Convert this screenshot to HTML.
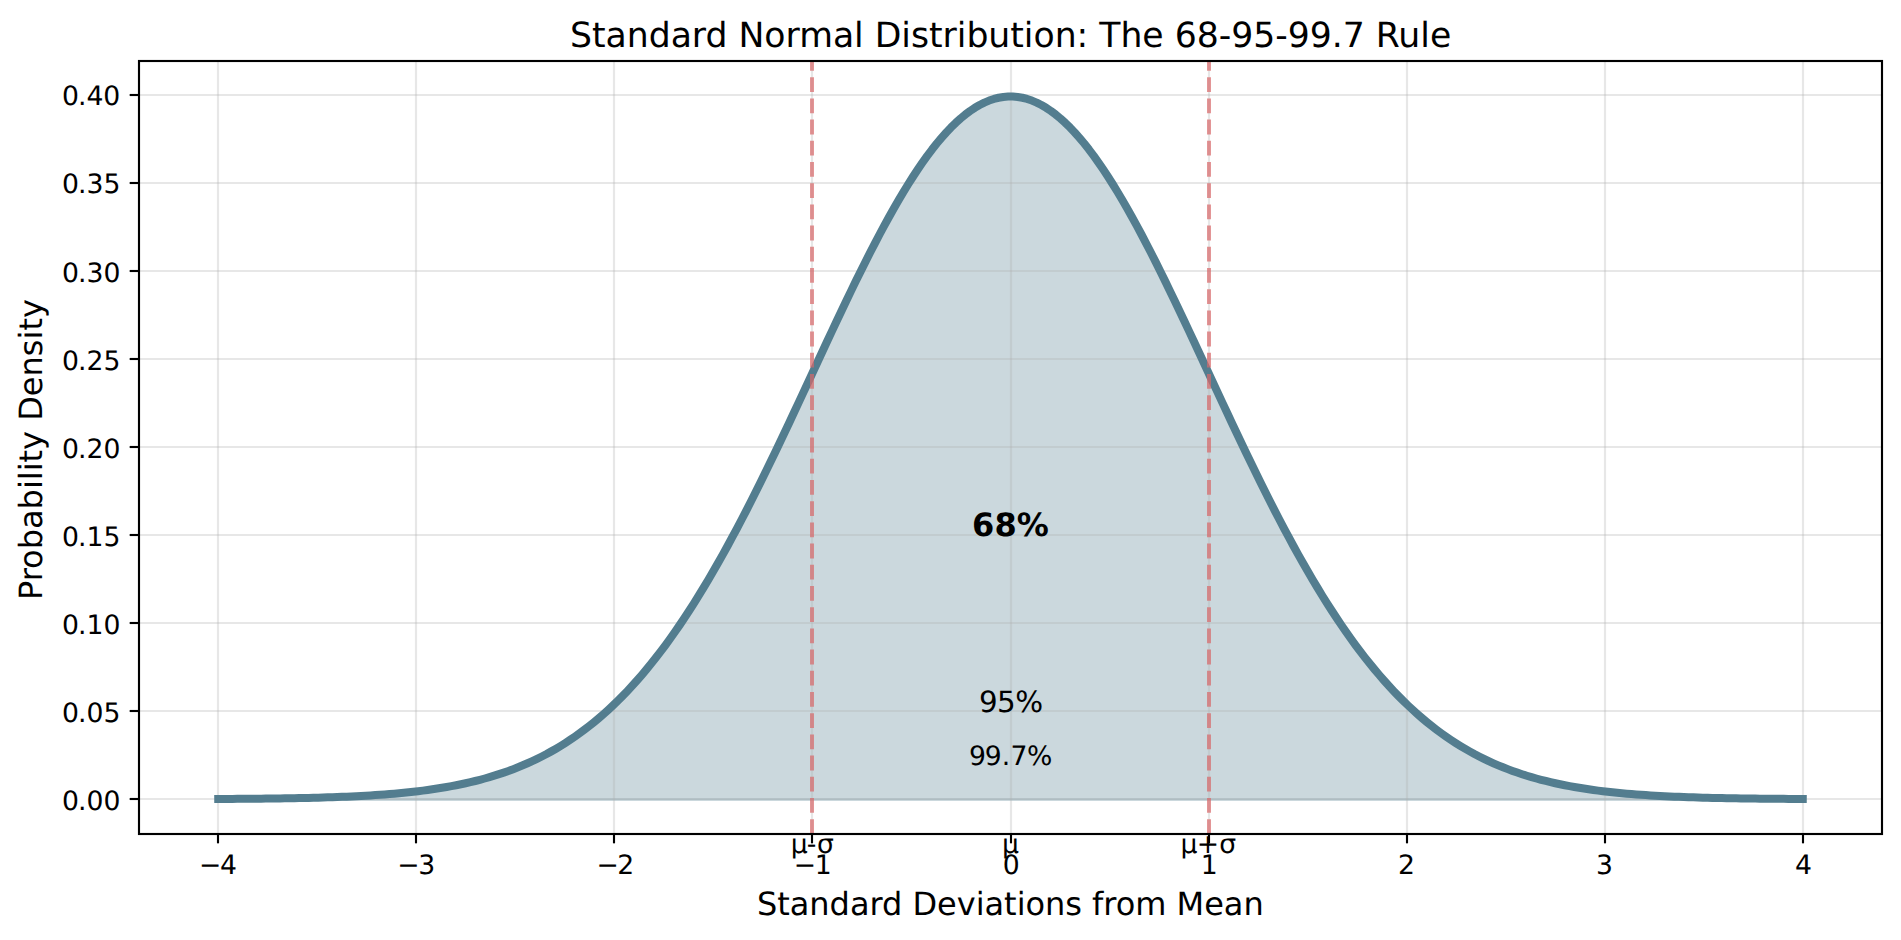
<!DOCTYPE html>
<html lang="en"><head><meta charset="utf-8"><title>Standard Normal Distribution: The 68-95-99.7 Rule</title>
<style>
html,body{margin:0;padding:0;background:#fff;overflow:hidden}
svg{display:block}
text{font-family:"DejaVu Sans","Liberation Sans",sans-serif;fill:#000;text-rendering:geometricPrecision}
</style></head><body>
<svg width="1901" height="940" viewBox="0 0 1901 940">
<rect width="1901" height="940" fill="#fff"/>
<polygon points="218.23,799.74 218.23,798.98 222.99,798.95 227.74,798.93 232.50,798.90 237.26,798.87 242.02,798.84 246.78,798.80 251.54,798.76 256.29,798.71 261.05,798.67 265.81,798.61 270.57,798.56 275.33,798.50 280.09,798.43 284.84,798.36 289.60,798.28 294.36,798.19 299.12,798.10 303.88,798.00 308.64,797.89 313.40,797.78 318.15,797.65 322.91,797.52 327.67,797.37 332.43,797.21 337.19,797.04 341.95,796.85 346.70,796.66 351.46,796.44 356.22,796.21 360.98,795.97 365.74,795.70 370.50,795.42 375.25,795.11 380.01,794.78 384.77,794.43 389.53,794.06 394.29,793.65 399.05,793.22 403.80,792.77 408.56,792.28 413.32,791.75 418.08,791.19 422.84,790.60 427.60,789.96 432.36,789.29 437.11,788.57 441.87,787.81 446.63,787.00 451.39,786.14 456.15,785.22 460.91,784.25 465.66,783.23 470.42,782.14 475.18,780.99 479.94,779.77 484.70,778.49 489.46,777.13 494.21,775.70 498.97,774.18 503.73,772.59 508.49,770.91 513.25,769.14 518.01,767.28 522.76,765.32 527.52,763.27 532.28,761.11 537.04,758.85 541.80,756.47 546.56,753.99 551.31,751.38 556.07,748.66 560.83,745.81 565.59,742.83 570.35,739.72 575.11,736.48 579.87,733.09 584.62,729.57 589.38,725.90 594.14,722.08 598.90,718.11 603.66,713.98 608.42,709.69 613.17,705.25 617.93,700.64 622.69,695.86 627.45,690.91 632.21,685.79 636.97,680.50 641.72,675.04 646.48,669.39 651.24,663.57 656.00,657.57 660.76,651.39 665.52,645.03 670.27,638.49 675.03,631.76 679.79,624.86 684.55,617.78 689.31,610.52 694.07,603.08 698.83,595.46 703.58,587.67 708.34,579.71 713.10,571.58 717.86,563.29 722.62,554.84 727.38,546.23 732.13,537.46 736.89,528.55 741.65,519.50 746.41,510.31 751.17,500.99 755.93,491.55 760.68,482.00 765.44,472.33 770.20,462.57 774.96,452.71 779.72,442.77 784.48,432.76 789.23,422.68 793.99,412.55 798.75,402.38 803.51,392.17 808.27,381.94 813.03,371.70 817.79,361.47 822.54,351.24 827.30,341.05 832.06,330.89 836.82,320.78 841.58,310.73 846.34,300.77 851.09,290.89 855.85,281.11 860.61,271.46 865.37,261.93 870.13,252.54 874.89,243.32 879.64,234.26 884.40,225.39 889.16,216.71 893.92,208.25 898.68,200.00 903.44,192.00 908.19,184.24 912.95,176.74 917.71,169.51 922.47,162.57 927.23,155.92 931.99,149.58 936.74,143.55 941.50,137.85 946.26,132.48 951.02,127.46 955.78,122.79 960.54,118.49 965.30,114.55 970.05,110.98 974.81,107.80 979.57,105.00 984.33,102.59 989.09,100.58 993.85,98.96 998.60,97.75 1003.36,96.94 1008.12,96.53 1012.88,96.53 1017.64,96.94 1022.40,97.75 1027.15,98.96 1031.91,100.58 1036.67,102.59 1041.43,105.00 1046.19,107.80 1050.95,110.98 1055.70,114.55 1060.46,118.49 1065.22,122.79 1069.98,127.46 1074.74,132.48 1079.50,137.85 1084.26,143.55 1089.01,149.58 1093.77,155.92 1098.53,162.57 1103.29,169.51 1108.05,176.74 1112.81,184.24 1117.56,192.00 1122.32,200.00 1127.08,208.25 1131.84,216.71 1136.60,225.39 1141.36,234.26 1146.11,243.32 1150.87,252.54 1155.63,261.93 1160.39,271.46 1165.15,281.11 1169.91,290.89 1174.66,300.77 1179.42,310.73 1184.18,320.78 1188.94,330.89 1193.70,341.05 1198.46,351.24 1203.21,361.47 1207.97,371.70 1212.73,381.94 1217.49,392.17 1222.25,402.38 1227.01,412.55 1231.77,422.68 1236.52,432.76 1241.28,442.77 1246.04,452.71 1250.80,462.57 1255.56,472.33 1260.32,482.00 1265.07,491.55 1269.83,500.99 1274.59,510.31 1279.35,519.50 1284.11,528.55 1288.87,537.46 1293.62,546.23 1298.38,554.84 1303.14,563.29 1307.90,571.58 1312.66,579.71 1317.42,587.67 1322.17,595.46 1326.93,603.08 1331.69,610.52 1336.45,617.78 1341.21,624.86 1345.97,631.76 1350.73,638.49 1355.48,645.03 1360.24,651.39 1365.00,657.57 1369.76,663.57 1374.52,669.39 1379.28,675.04 1384.03,680.50 1388.79,685.79 1393.55,690.91 1398.31,695.86 1403.07,700.64 1407.83,705.25 1412.58,709.69 1417.34,713.98 1422.10,718.11 1426.86,722.08 1431.62,725.90 1436.38,729.57 1441.13,733.09 1445.89,736.48 1450.65,739.72 1455.41,742.83 1460.17,745.81 1464.93,748.66 1469.69,751.38 1474.44,753.99 1479.20,756.47 1483.96,758.85 1488.72,761.11 1493.48,763.27 1498.24,765.32 1502.99,767.28 1507.75,769.14 1512.51,770.91 1517.27,772.59 1522.03,774.18 1526.79,775.70 1531.54,777.13 1536.30,778.49 1541.06,779.77 1545.82,780.99 1550.58,782.14 1555.34,783.23 1560.09,784.25 1564.85,785.22 1569.61,786.14 1574.37,787.00 1579.13,787.81 1583.89,788.57 1588.64,789.29 1593.40,789.96 1598.16,790.60 1602.92,791.19 1607.68,791.75 1612.44,792.28 1617.20,792.77 1621.95,793.22 1626.71,793.65 1631.47,794.06 1636.23,794.43 1640.99,794.78 1645.75,795.11 1650.50,795.42 1655.26,795.70 1660.02,795.97 1664.78,796.21 1669.54,796.44 1674.30,796.66 1679.05,796.85 1683.81,797.04 1688.57,797.21 1693.33,797.37 1698.09,797.52 1702.85,797.65 1707.60,797.78 1712.36,797.89 1717.12,798.00 1721.88,798.10 1726.64,798.19 1731.40,798.28 1736.16,798.36 1740.91,798.43 1745.67,798.50 1750.43,798.56 1755.19,798.61 1759.95,798.67 1764.71,798.71 1769.46,798.76 1774.22,798.80 1778.98,798.84 1783.74,798.87 1788.50,798.90 1793.26,798.93 1798.01,798.95 1802.77,798.98 1802.77,799.74" fill="#537d8f" fill-opacity="0.3" stroke="#537d8f" stroke-opacity="0.3" stroke-width="2.667" stroke-linejoin="miter"/>
<g stroke="#b0b0b0" stroke-opacity="0.3" stroke-width="2.133" fill="none">
<line x1="218" y1="61" x2="218" y2="834"/><line x1="416" y1="61" x2="416" y2="834"/><line x1="614" y1="61" x2="614" y2="834"/><line x1="812" y1="61" x2="812" y2="834"/><line x1="1011" y1="61" x2="1011" y2="834"/><line x1="1209" y1="61" x2="1209" y2="834"/><line x1="1407" y1="61" x2="1407" y2="834"/><line x1="1605" y1="61" x2="1605" y2="834"/><line x1="1803" y1="61" x2="1803" y2="834"/>
<line x1="139" y1="799" x2="1882" y2="799"/><line x1="139" y1="711" x2="1882" y2="711"/><line x1="139" y1="623" x2="1882" y2="623"/><line x1="139" y1="535" x2="1882" y2="535"/><line x1="139" y1="447" x2="1882" y2="447"/><line x1="139" y1="359" x2="1882" y2="359"/><line x1="139" y1="271" x2="1882" y2="271"/><line x1="139" y1="183" x2="1882" y2="183"/><line x1="139" y1="95" x2="1882" y2="95"/>
</g>
<polyline points="218.23,798.98 222.99,798.95 227.74,798.93 232.50,798.90 237.26,798.87 242.02,798.84 246.78,798.80 251.54,798.76 256.29,798.71 261.05,798.67 265.81,798.61 270.57,798.56 275.33,798.50 280.09,798.43 284.84,798.36 289.60,798.28 294.36,798.19 299.12,798.10 303.88,798.00 308.64,797.89 313.40,797.78 318.15,797.65 322.91,797.52 327.67,797.37 332.43,797.21 337.19,797.04 341.95,796.85 346.70,796.66 351.46,796.44 356.22,796.21 360.98,795.97 365.74,795.70 370.50,795.42 375.25,795.11 380.01,794.78 384.77,794.43 389.53,794.06 394.29,793.65 399.05,793.22 403.80,792.77 408.56,792.28 413.32,791.75 418.08,791.19 422.84,790.60 427.60,789.96 432.36,789.29 437.11,788.57 441.87,787.81 446.63,787.00 451.39,786.14 456.15,785.22 460.91,784.25 465.66,783.23 470.42,782.14 475.18,780.99 479.94,779.77 484.70,778.49 489.46,777.13 494.21,775.70 498.97,774.18 503.73,772.59 508.49,770.91 513.25,769.14 518.01,767.28 522.76,765.32 527.52,763.27 532.28,761.11 537.04,758.85 541.80,756.47 546.56,753.99 551.31,751.38 556.07,748.66 560.83,745.81 565.59,742.83 570.35,739.72 575.11,736.48 579.87,733.09 584.62,729.57 589.38,725.90 594.14,722.08 598.90,718.11 603.66,713.98 608.42,709.69 613.17,705.25 617.93,700.64 622.69,695.86 627.45,690.91 632.21,685.79 636.97,680.50 641.72,675.04 646.48,669.39 651.24,663.57 656.00,657.57 660.76,651.39 665.52,645.03 670.27,638.49 675.03,631.76 679.79,624.86 684.55,617.78 689.31,610.52 694.07,603.08 698.83,595.46 703.58,587.67 708.34,579.71 713.10,571.58 717.86,563.29 722.62,554.84 727.38,546.23 732.13,537.46 736.89,528.55 741.65,519.50 746.41,510.31 751.17,500.99 755.93,491.55 760.68,482.00 765.44,472.33 770.20,462.57 774.96,452.71 779.72,442.77 784.48,432.76 789.23,422.68 793.99,412.55 798.75,402.38 803.51,392.17 808.27,381.94 813.03,371.70 817.79,361.47 822.54,351.24 827.30,341.05 832.06,330.89 836.82,320.78 841.58,310.73 846.34,300.77 851.09,290.89 855.85,281.11 860.61,271.46 865.37,261.93 870.13,252.54 874.89,243.32 879.64,234.26 884.40,225.39 889.16,216.71 893.92,208.25 898.68,200.00 903.44,192.00 908.19,184.24 912.95,176.74 917.71,169.51 922.47,162.57 927.23,155.92 931.99,149.58 936.74,143.55 941.50,137.85 946.26,132.48 951.02,127.46 955.78,122.79 960.54,118.49 965.30,114.55 970.05,110.98 974.81,107.80 979.57,105.00 984.33,102.59 989.09,100.58 993.85,98.96 998.60,97.75 1003.36,96.94 1008.12,96.53 1012.88,96.53 1017.64,96.94 1022.40,97.75 1027.15,98.96 1031.91,100.58 1036.67,102.59 1041.43,105.00 1046.19,107.80 1050.95,110.98 1055.70,114.55 1060.46,118.49 1065.22,122.79 1069.98,127.46 1074.74,132.48 1079.50,137.85 1084.26,143.55 1089.01,149.58 1093.77,155.92 1098.53,162.57 1103.29,169.51 1108.05,176.74 1112.81,184.24 1117.56,192.00 1122.32,200.00 1127.08,208.25 1131.84,216.71 1136.60,225.39 1141.36,234.26 1146.11,243.32 1150.87,252.54 1155.63,261.93 1160.39,271.46 1165.15,281.11 1169.91,290.89 1174.66,300.77 1179.42,310.73 1184.18,320.78 1188.94,330.89 1193.70,341.05 1198.46,351.24 1203.21,361.47 1207.97,371.70 1212.73,381.94 1217.49,392.17 1222.25,402.38 1227.01,412.55 1231.77,422.68 1236.52,432.76 1241.28,442.77 1246.04,452.71 1250.80,462.57 1255.56,472.33 1260.32,482.00 1265.07,491.55 1269.83,500.99 1274.59,510.31 1279.35,519.50 1284.11,528.55 1288.87,537.46 1293.62,546.23 1298.38,554.84 1303.14,563.29 1307.90,571.58 1312.66,579.71 1317.42,587.67 1322.17,595.46 1326.93,603.08 1331.69,610.52 1336.45,617.78 1341.21,624.86 1345.97,631.76 1350.73,638.49 1355.48,645.03 1360.24,651.39 1365.00,657.57 1369.76,663.57 1374.52,669.39 1379.28,675.04 1384.03,680.50 1388.79,685.79 1393.55,690.91 1398.31,695.86 1403.07,700.64 1407.83,705.25 1412.58,709.69 1417.34,713.98 1422.10,718.11 1426.86,722.08 1431.62,725.90 1436.38,729.57 1441.13,733.09 1445.89,736.48 1450.65,739.72 1455.41,742.83 1460.17,745.81 1464.93,748.66 1469.69,751.38 1474.44,753.99 1479.20,756.47 1483.96,758.85 1488.72,761.11 1493.48,763.27 1498.24,765.32 1502.99,767.28 1507.75,769.14 1512.51,770.91 1517.27,772.59 1522.03,774.18 1526.79,775.70 1531.54,777.13 1536.30,778.49 1541.06,779.77 1545.82,780.99 1550.58,782.14 1555.34,783.23 1560.09,784.25 1564.85,785.22 1569.61,786.14 1574.37,787.00 1579.13,787.81 1583.89,788.57 1588.64,789.29 1593.40,789.96 1598.16,790.60 1602.92,791.19 1607.68,791.75 1612.44,792.28 1617.20,792.77 1621.95,793.22 1626.71,793.65 1631.47,794.06 1636.23,794.43 1640.99,794.78 1645.75,795.11 1650.50,795.42 1655.26,795.70 1660.02,795.97 1664.78,796.21 1669.54,796.44 1674.30,796.66 1679.05,796.85 1683.81,797.04 1688.57,797.21 1693.33,797.37 1698.09,797.52 1702.85,797.65 1707.60,797.78 1712.36,797.89 1717.12,798.00 1721.88,798.10 1726.64,798.19 1731.40,798.28 1736.16,798.36 1740.91,798.43 1745.67,798.50 1750.43,798.56 1755.19,798.61 1759.95,798.67 1764.71,798.71 1769.46,798.76 1774.22,798.80 1778.98,798.84 1783.74,798.87 1788.50,798.90 1793.26,798.93 1798.01,798.95 1802.77,798.98" fill="none" stroke="#537d8f" stroke-width="8" stroke-linejoin="round" stroke-linecap="square"/>
<line x1="812" y1="834" x2="812" y2="61" stroke="#d7686a" stroke-opacity="0.7" stroke-width="4" stroke-dasharray="14.8 6.4"/>
<line x1="1209" y1="834" x2="1209" y2="61" stroke="#d7686a" stroke-opacity="0.7" stroke-width="4" stroke-dasharray="14.8 6.4"/>
<g stroke="#000" stroke-width="2.133" fill="none">
<line x1="218" y1="834" x2="218" y2="843.33"/><line x1="416" y1="834" x2="416" y2="843.33"/><line x1="614" y1="834" x2="614" y2="843.33"/><line x1="812" y1="834" x2="812" y2="843.33"/><line x1="1011" y1="834" x2="1011" y2="843.33"/><line x1="1209" y1="834" x2="1209" y2="843.33"/><line x1="1407" y1="834" x2="1407" y2="843.33"/><line x1="1605" y1="834" x2="1605" y2="843.33"/><line x1="1803" y1="834" x2="1803" y2="843.33"/>
<line x1="139" y1="799" x2="129.67" y2="799"/><line x1="139" y1="711" x2="129.67" y2="711"/><line x1="139" y1="623" x2="129.67" y2="623"/><line x1="139" y1="535" x2="129.67" y2="535"/><line x1="139" y1="447" x2="129.67" y2="447"/><line x1="139" y1="359" x2="129.67" y2="359"/><line x1="139" y1="271" x2="129.67" y2="271"/><line x1="139" y1="183" x2="129.67" y2="183"/><line x1="139" y1="95" x2="129.67" y2="95"/>
<rect x="139" y="61" width="1743" height="773" stroke-linejoin="miter"/>
</g>
<text x="1010.60" y="47.00" font-size="34.667" text-anchor="middle" textLength="881.24" lengthAdjust="spacing">Standard Normal Distribution: The 68-95-99.7 Rule</text>
<text x="1010.34" y="915.00" font-size="32.000" text-anchor="middle" textLength="506.76" lengthAdjust="spacing">Standard Deviations from Mean</text>
<text transform="translate(42.00 449.61) rotate(-90)" font-size="32.000" text-anchor="middle">Probability Density</text>
<text x="199.09 219.99" y="874.00" font-size="26.667">−4</text>
<text x="397.35 418.24" y="874.00" font-size="26.667">−3</text>
<text x="596.43 617.32" y="874.00" font-size="26.667">−2</text>
<text x="793.77 814.66" y="874.00" font-size="26.667">−1</text>
<text x="1011.27" y="874.00" font-size="26.667" text-anchor="middle">0</text>
<text x="1209.34" y="874.00" font-size="26.667" text-anchor="middle">1</text>
<text x="1406.51" y="874.00" font-size="26.667" text-anchor="middle">2</text>
<text x="1604.56" y="874.00" font-size="26.667" text-anchor="middle">3</text>
<text x="1803.41" y="874.00" font-size="26.667" text-anchor="middle">4</text>
<text x="61.92 77.96 86.44 103.40" y="810.00" font-size="26.667">0.00</text>
<text x="61.94 77.98 86.46 103.42" y="722.00" font-size="26.667">0.05</text>
<text x="61.91 77.95 86.43 103.39" y="634.00" font-size="26.667">0.10</text>
<text x="61.94 77.98 86.46 103.42" y="546.00" font-size="26.667">0.15</text>
<text x="61.98 78.02 86.50 103.46" y="458.00" font-size="26.667">0.20</text>
<text x="62.01 78.05 86.53 103.49" y="370.00" font-size="26.667">0.25</text>
<text x="61.98 78.02 86.50 103.46" y="282.00" font-size="26.667">0.30</text>
<text x="62.00 78.04 86.52 103.48" y="193.00" font-size="26.667">0.35</text>
<text x="61.89 77.93 86.41 103.37" y="105.00" font-size="26.667">0.40</text>
<text x="1010.41" y="536.00" font-size="32.000" text-anchor="middle" font-weight="bold">68%</text>
<text x="979.12 996.97 1015.36" y="712.00" font-size="29.333">95%</text>
<text x="968.95 984.78 1001.82 1010.38 1027.06" y="765.00" font-size="26.667">99.7%</text>
<text x="790.69 806.75 816.88" y="853.00" font-size="26.667">μ-σ</text>
<text x="1010.50" y="853.00" font-size="26.667" text-anchor="middle">μ</text>
<text x="1180.46 1196.83 1219.37" y="853.00" font-size="26.667">μ+σ</text>
</svg>
</body></html>
